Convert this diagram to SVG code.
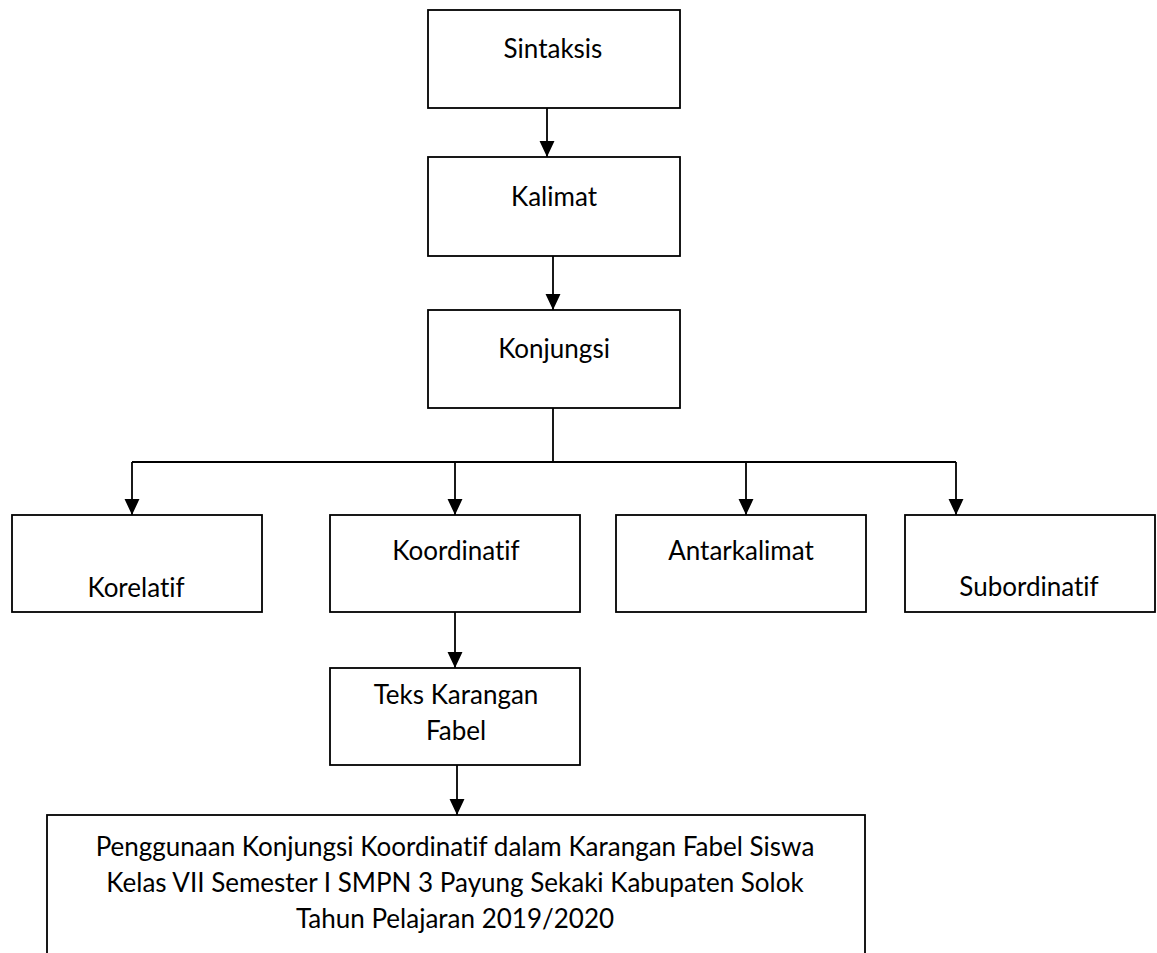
<svg xmlns="http://www.w3.org/2000/svg" width="1157" height="953" viewBox="0 0 1157 953">
<style>
.box{fill:#fff;stroke:#000;stroke-width:1.8}
.t{font-family:Lato,"Liberation Sans",sans-serif;font-size:26px;fill:#000;text-anchor:middle;font-variant-ligatures:none}
.c{fill:none;stroke:#000;stroke-width:1.8}
</style>
<defs>
<marker id="ah" markerUnits="userSpaceOnUse" markerWidth="16" markerHeight="16" refX="15" refY="7" orient="auto" viewBox="0 0 15 14">
<path d="M0,0 L15,7 L0,14 Z" fill="#000"/>
</marker>
</defs>
<rect width="1157" height="953" fill="#fff"/>
<g id="connectors">
<path class="c" d="M547,108 V157" marker-end="url(#ah)"/>
<path class="c" d="M553,256 V310" marker-end="url(#ah)"/>
<path class="c" d="M553,408 V462 M132,462 H956"/>
<path class="c" d="M132,462 V515" marker-end="url(#ah)"/>
<path class="c" d="M455,462 V515" marker-end="url(#ah)"/>
<path class="c" d="M746,462 V515" marker-end="url(#ah)"/>
<path class="c" d="M956,462 V515" marker-end="url(#ah)"/>
<path class="c" d="M455,612 V668" marker-end="url(#ah)"/>
<path class="c" d="M457,765 V815" marker-end="url(#ah)"/>
</g>
<g id="sintaksis"><rect class="box" x="428" y="10" width="252" height="98"/><text class="t" x="553" y="58">Sintaksis</text></g>
<g id="kalimat"><rect class="box" x="428" y="157" width="252" height="99"/><text class="t" x="554" y="206">Kalimat</text></g>
<g id="konjungsi"><rect class="box" x="428" y="310" width="252" height="98"/><text class="t" x="554" y="358">Konjungsi</text></g>
<g id="korelatif"><rect class="box" x="12" y="515" width="250" height="97"/><text class="t" x="136" y="597">Korelatif</text></g>
<g id="koordinatif"><rect class="box" x="330" y="515" width="250" height="97"/><text class="t" x="456" y="560">Koordinatif</text></g>
<g id="antarkalimat"><rect class="box" x="616" y="515" width="250" height="97"/><text class="t" x="741" y="560">Antarkalimat</text></g>
<g id="subordinatif"><rect class="box" x="905" y="515" width="250" height="97"/><text class="t" x="1029" y="596">Subordinatif</text></g>
<g id="teks-karangan-fabel"><rect class="box" x="330" y="668" width="250" height="97"/><text class="t" x="456" y="704">Teks Karangan</text><text class="t" x="456" y="740">Fabel</text></g>
<g id="penggunaan"><rect class="box" x="47" y="815" width="818" height="150"/><text class="t" x="455" y="856">Penggunaan Konjungsi Koordinatif dalam Karangan Fabel Siswa</text><text class="t" x="455" y="892">Kelas VII Semester I SMPN 3 Payung Sekaki Kabupaten Solok</text><text class="t" x="455" y="928">Tahun Pelajaran 2019/2020</text></g>
</svg>
